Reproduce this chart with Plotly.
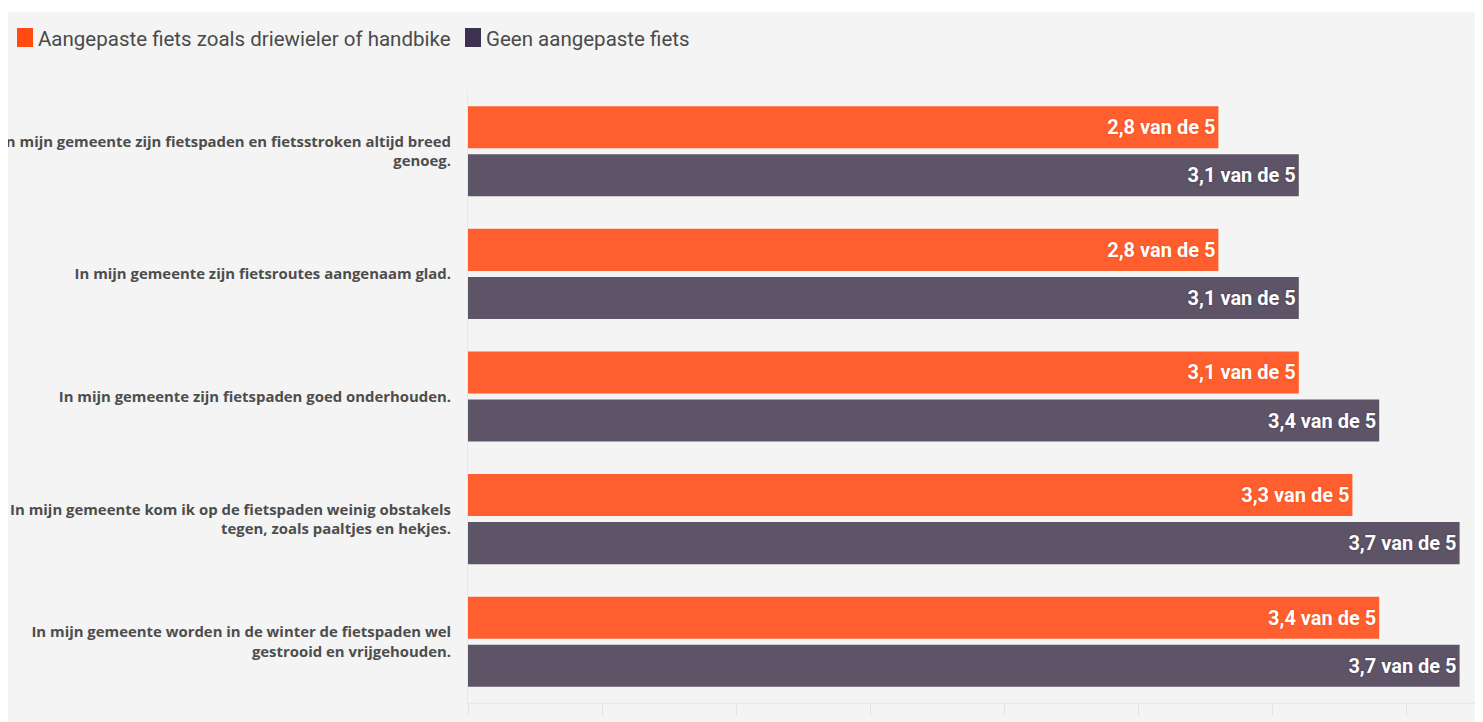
import plotly.graph_objects as go

categories = [
    "In mijn gemeente zijn fietspaden en fietsstroken altijd breed<br>genoeg.",
    "In mijn gemeente zijn fietsroutes aangenaam glad.",
    "In mijn gemeente zijn fietspaden goed onderhouden.",
    "In mijn gemeente kom ik op de fietspaden weinig obstakels<br>tegen, zoals paaltjes en hekjes.",
    "In mijn gemeente worden in de winter de fietspaden wel<br>gestrooid en vrijgehouden.",
]
series_names = ["Aangepaste fiets zoals driewieler of handbike", "Geen aangepaste fiets"]
aangepast = [2.8, 2.8, 3.1, 3.3, 3.4]
geen_aangepast = [3.1, 3.1, 3.4, 3.7, 3.7]
series_values = [aangepast, geen_aangepast]
colors = ["#FF5F2E", "#5E5468"]
legend_colors = ["#FF4A12", "#3D3150"]
shadow_colors = ["#E8420F", "#3A3046"]

W, H = 1475, 714
ML, MR, MT, MB = 460, 0, 82, 19
PW = W - ML - MR
PH = H - MT - MB

def px_x(p):
    return (p - ML) / PW

def px_y(p):
    return (H - MB - p) / PH

def fmt(v):
    return f"{v:.1f}".replace(".", ",") + " van de 5"

fig = go.Figure()
for name, vals, col, sh in zip(series_names, series_values, colors, shadow_colors):
    fig.add_trace(go.Bar(
        name=name,
        y=categories,
        x=vals,
        orientation="h",
        marker=dict(color=col, line=dict(width=0)),
        text=[fmt(v) for v in vals],
        textposition="inside",
        insidetextanchor="end",
        textangle=0,
        insidetextfont=dict(family="Roboto", size=20, color="white", weight="bold",
                            shadow=f"0px 0px 2px {sh}"),
        showlegend=False,
        hoverinfo="skip",
    ))

shapes = [
    # white strip at the top of the card
    dict(type="rect", xref="paper", yref="paper", layer="below",
         x0=px_x(-10), x1=px_x(W + 10), y0=px_y(4), y1=px_y(-10),
         fillcolor="white", line=dict(width=0)),
]

annotations = []
legend_x = [9, 457]
for i, (name, lc) in enumerate(zip(series_names, legend_colors)):
    x0 = legend_x[i]
    shapes.append(dict(type="rect", xref="paper", yref="paper", layer="above",
                       x0=px_x(x0), x1=px_x(x0 + 16), y0=px_y(39), y1=px_y(20),
                       fillcolor=lc, line=dict(width=0)))
    annotations.append(dict(xref="paper", yref="paper", x=px_x(x0 + 19), y=px_y(31),
                            xanchor="left", yanchor="middle", showarrow=False,
                            text=name, font=dict(family="Roboto", size=20.5, color="#4A4A4A")))

fig.update_layout(
    width=W, height=H, autosize=False,
    margin=dict(l=ML, r=MR, t=MT, b=MB, pad=0, autoexpand=False),
    paper_bgcolor="#F4F4F4",
    plot_bgcolor="#F4F4F4",
    barmode="group",
    bargap=0.216,
    bargroupgap=0.125,
    showlegend=False,
    shapes=shapes,
    annotations=annotations,
    xaxis=dict(range=[0, PW / 268.0], dtick=0.5, tick0=0, showgrid=False, zeroline=False,
               showticklabels=False, ticks="outside", ticklen=12, tickcolor="#E4E4E4",
               showline=True, linecolor="#E8E8E8", linewidth=1, fixedrange=True,
               automargin=False),
    yaxis=dict(autorange="reversed", showgrid=False, zeroline=False, ticks="",
               showline=True, linecolor="#E8E8E8", linewidth=1, automargin=False,
               ticklabelstandoff=13,
               tickfont=dict(family="Open Sans", size=14.9, color="#4D4D4D", weight="bold")),
)

fig.write_html("out.html")
